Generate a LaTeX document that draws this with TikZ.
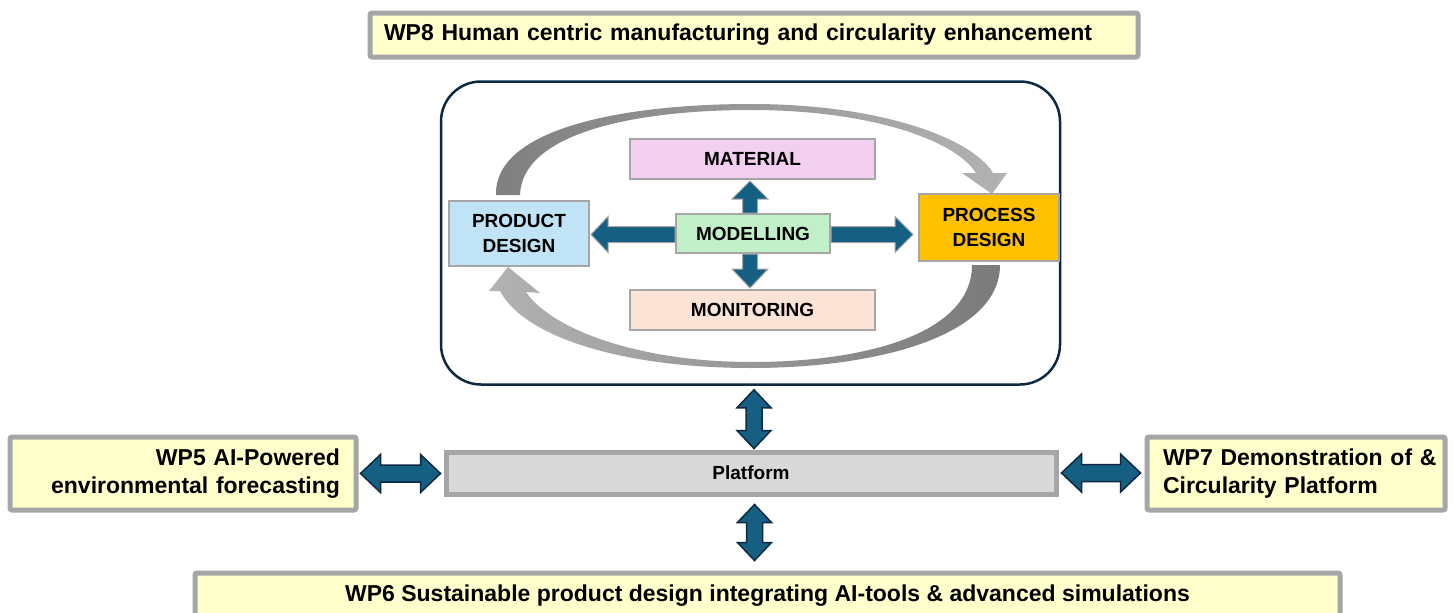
\documentclass[tikz,border=0pt]{standalone}
\usepackage{fontspec}
\setmainfont{Liberation Sans}
\usetikzlibrary{calc,backgrounds}
\definecolor{wpyellow}{HTML}{FFFFCC}
\definecolor{wpgray}{HTML}{A6A6A6}
\definecolor{navy}{HTML}{0E2841}
\definecolor{tealblue}{HTML}{156082}
\definecolor{matpink}{HTML}{F2CEEF}
\definecolor{modgreen}{HTML}{C1F0C8}
\definecolor{monpeach}{HTML}{FBE3D6}
\definecolor{prodblue}{HTML}{C0E4F5}
\definecolor{procorange}{HTML}{FFC000}
\definecolor{platgray}{HTML}{D9D9D9}
% double block arrow: style, A, B, shaft half, head half, head length
\newcommand{\blockdbl}[6]{%
  \filldraw[#1] (#2) -- ($(#2)!#6!(#3)!#5!90:(#3)$) -- ($(#2)!#6!(#3)!#4!90:(#3)$)
    -- ($(#3)!#6!(#2)!#4!-90:(#2)$) -- ($(#3)!#6!(#2)!#5!-90:(#2)$) -- (#3)
    -- ($(#3)!#6!(#2)!#5!90:(#2)$) -- ($(#3)!#6!(#2)!#4!90:(#2)$)
    -- ($(#2)!#6!(#3)!#4!-90:(#3)$) -- ($(#2)!#6!(#3)!#5!-90:(#3)$) -- cycle;}
% single block arrow: style, tail A, tip B, shaft half, head half, head length
\newcommand{\blocksgl}[6]{%
  \filldraw[#1] ($(#2)!#4!90:(#3)$) -- ($(#3)!#6!(#2)!#4!-90:(#2)$)
    -- ($(#3)!#6!(#2)!#5!-90:(#2)$) -- (#3) -- ($(#3)!#6!(#2)!#5!90:(#2)$)
    -- ($(#3)!#6!(#2)!#4!90:(#2)$) -- ($(#2)!#4!-90:(#3)$) -- cycle;}
\tikzset{
  wpbox/.style={draw=wpgray, line width=5pt, fill=wpyellow, rounded corners=2pt,
    font=\bfseries\fontsize{23}{28}\selectfont, inner sep=0pt},
  smallbox/.style={draw=wpgray, line width=2pt, inner sep=0pt, align=center,
    font=\bfseries\fontsize{19}{25}\selectfont},
  innerarrow/.style={fill=tealblue, draw=wpgray, line width=1pt, line join=miter},
  outerarrow/.style={fill=tealblue, draw=navy, line width=1.5pt, line join=miter},
}
\begin{document}
\begin{tikzpicture}[x=1pt, y=-1pt]
\begin{scope}[on background layer]
  \fill[white] (0,0) rectangle (1454,613);
\end{scope}
\useasboundingbox (0,0) rectangle (1454,613);

% top WP8
\node[wpbox, minimum width=768pt, minimum height=44pt, text width=740pt, align=left] (wp8) at (754,35)
  {WP8 Human centric manufacturing and circularity enhancement};

% main frame
\node[draw=navy, line width=2.5pt, rounded corners=40pt, minimum width=619pt, minimum height=303pt] (main) at (750.5,233) {};

% inner boxes
\node[smallbox, fill=matpink, minimum width=245pt, minimum height=40pt] (material) at (752.5,159) {MATERIAL};
\node[smallbox, fill=modgreen, minimum width=154pt, minimum height=39pt] (modelling) at (753,233.5) {MODELLING};
\node[smallbox, fill=monpeach, minimum width=245pt, minimum height=40pt] (monitoring) at (752.5,310) {MONITORING};
\node[smallbox, fill=prodblue, minimum width=140pt, minimum height=65pt] (product) at (519,233.5) {PRODUCT\\DESIGN};
\node[smallbox, fill=procorange, minimum width=140pt, minimum height=67pt] (process) at (989,227.5) {PROCESS\\DESIGN};

% platform and WP boxes
\node[draw=wpgray, line width=5pt, fill=platgray, minimum width=610pt, minimum height=42pt,
  font=\bfseries\fontsize{19}{22}\selectfont] (platform) at (751,473) {Platform};
\node[wpbox, minimum width=346pt, minimum height=73pt, text width=314pt, align=right] (wp5) at (183,473.5)
  {WP5 AI-Powered\\environmental forecasting};
\node[wpbox, minimum width=298pt, minimum height=73pt, text width=266pt, align=left] (wp7) at (1296,473.5)
  {\mbox{WP7 Demonstration of \&}\\Circularity Platform};
\node[wpbox, minimum width=1145pt, minimum height=46pt, align=center] (wp6) at (767.5,596)
  {WP6 Sustainable product design integrating AI-tools \& advanced simulations};

% curved grey cycle arrows
\begin{scope}[on background layer]
\shade[left color=black!50, right color=black!30]
  (496,195) .. controls (494,128) and (625,104) .. (751,104)
  .. controls (880,104) and (972,138) .. (993,173)
  -- (1007,173) -- (992,194) -- (962,173) -- (976,173)
  .. controls (955,140) and (870,110) .. (751,110)
  .. controls (635,110) and (522,133) .. (520,195) -- cycle;
\shade[left color=black!30, right color=black!52]
  (1000,265) .. controls (1000,335) and (880,368) .. (751,368)
  .. controls (625,368) and (525,338) .. (500,291)
  -- (489,291) -- (508,267) -- (540,293) -- (526,292)
  .. controls (552,330) and (640,362) .. (751,362)
  .. controls (870,362) and (972,332) .. (972,265) -- cycle;
\end{scope}

% inner block arrows from MODELLING
\coordinate (tipL) at ($(product.east)+(1,1)$);
\coordinate (tailL) at ($(modelling.west)+(0,1)$);
\blocksgl{innerarrow}{tailL}{tipL}{8pt}{18pt}{17pt}
\coordinate (tailR) at ($(modelling.east)+(0,1)$);
\coordinate (tipR) at ($(process.west |- tailR)+(-5,0)$);
\blocksgl{innerarrow}{tailR}{tipR}{8pt}{18pt}{18pt}
\coordinate (tailU) at ($(modelling.north)+(-3,0)$);
\coordinate (tipU) at ($(material.south -| tailU)+(0,1)$);
\blocksgl{innerarrow}{tailU}{tipU}{7.5pt}{18pt}{18pt}
\coordinate (tailD) at ($(modelling.south)+(-3,0)$);
\coordinate (tipD) at ($(monitoring.north -| tailD)+(0,-1)$);
\blocksgl{innerarrow}{tailD}{tipD}{7.5pt}{18pt}{19pt}

% outer double arrows
\coordinate (mA) at ($(main.south)+(3.5,4)$);
\coordinate (mB) at ($(platform.north -| mA)+(0,-1)$);
\blockdbl{outerarrow}{mA}{mB}{8pt}{17pt}{18pt}
\coordinate (pA) at ($(platform.south)+(3.5,8)$);
\coordinate (pB) at ($(wp6.north -| pA)+(0,-10)$);
\blockdbl{outerarrow}{pA}{pB}{8pt}{17pt}{18pt}
\coordinate (lA) at ($(wp5.east)+(2,0)$);
\coordinate (lB) at ($(platform.west |- lA)+(-3,0)$);
\blockdbl{outerarrow}{lA}{lB}{8.5pt}{19pt}{20pt}
\coordinate (rA) at ($(platform.east)+(3,0)$);
\coordinate (rB) at ($(wp7.west |- rA)+(-4,0)$);
\blockdbl{outerarrow}{rA}{rB}{8.5pt}{19pt}{20pt}
\end{tikzpicture}
\end{document}
